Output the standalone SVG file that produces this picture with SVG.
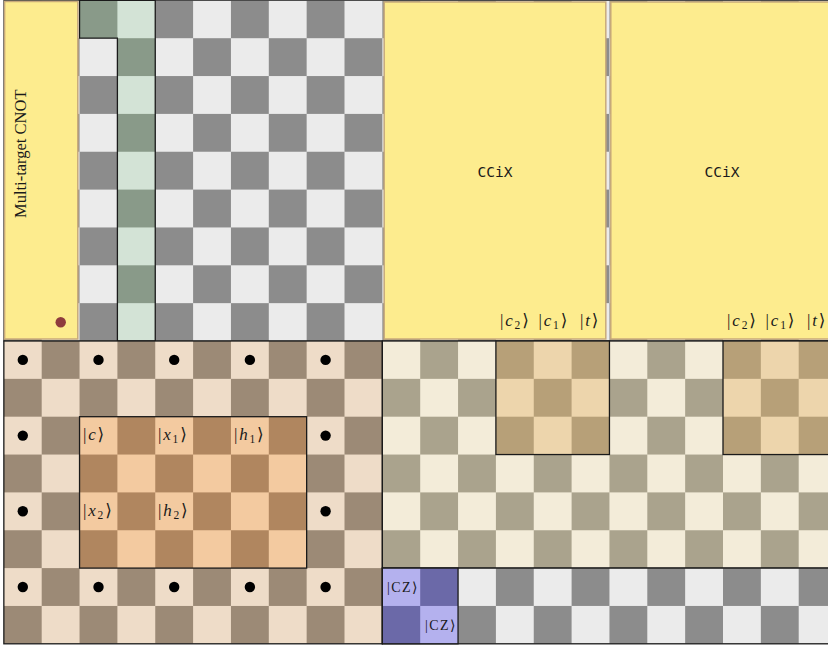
<svg xmlns="http://www.w3.org/2000/svg" width="828" height="647" viewBox="0 0 828 647">
<style>
.reg{stroke:#1a1a1a;stroke-width:1.3}
.box{fill:#fdec8e;stroke:#c8aa7a;stroke-width:1.5}
.lbl{font-family:"Liberation Serif","DejaVu Serif",serif;font-size:17px;fill:#1a1a1a;letter-spacing:1.8px}
.cz{font-size:14px;letter-spacing:1.4px}
.it{font-style:italic}
.sub{font-size:11.5px;font-style:normal}
.mono{font-family:"DejaVu Sans Mono",monospace;font-size:14.5px;fill:#1a1a1a}
.dot{fill:#000}
</style>
<defs>
<pattern id="pGrey" patternUnits="userSpaceOnUse" x="3.85" y="0.35" width="75.7" height="75.7"><rect width="75.7" height="75.7" fill="#ebebeb"/><rect width="37.85" height="37.85" fill="#8c8c8c"/><rect x="37.85" y="37.85" width="37.85" height="37.85" fill="#8c8c8c"/></pattern>
<pattern id="pGreen" patternUnits="userSpaceOnUse" x="3.85" y="0.35" width="75.7" height="75.7"><rect width="75.7" height="75.7" fill="#d3e3d6"/><rect width="37.85" height="37.85" fill="#899a89"/><rect x="37.85" y="37.85" width="37.85" height="37.85" fill="#899a89"/></pattern>
<pattern id="pTan" patternUnits="userSpaceOnUse" x="3.85" y="0.35" width="75.7" height="75.7"><rect width="75.7" height="75.7" fill="#eedcc8"/><rect width="37.85" height="37.85" fill="#9c8a76"/><rect x="37.85" y="37.85" width="37.85" height="37.85" fill="#9c8a76"/></pattern>
<pattern id="pOrange" patternUnits="userSpaceOnUse" x="3.85" y="0.35" width="75.7" height="75.7"><rect width="75.7" height="75.7" fill="#f3caa0"/><rect width="37.85" height="37.85" fill="#b0865f"/><rect x="37.85" y="37.85" width="37.85" height="37.85" fill="#b0865f"/></pattern>
<pattern id="pCream" patternUnits="userSpaceOnUse" x="3.85" y="0.35" width="75.7" height="75.7"><rect width="75.7" height="75.7" fill="#f3ecd9"/><rect width="37.85" height="37.85" fill="#aaa38d"/><rect x="37.85" y="37.85" width="37.85" height="37.85" fill="#aaa38d"/></pattern>
<pattern id="pBrown" patternUnits="userSpaceOnUse" x="3.85" y="0.35" width="75.7" height="75.7"><rect width="75.7" height="75.7" fill="#edd5ac"/><rect width="37.85" height="37.85" fill="#b7a078"/><rect x="37.85" y="37.85" width="37.85" height="37.85" fill="#b7a078"/></pattern>
<pattern id="pPurple" patternUnits="userSpaceOnUse" x="3.85" y="0.35" width="75.7" height="75.7"><rect width="75.7" height="75.7" fill="#b4b1ee"/><rect width="37.85" height="37.85" fill="#6b69a8"/><rect x="37.85" y="37.85" width="37.85" height="37.85" fill="#6b69a8"/></pattern>
</defs>
<rect width="828" height="647" fill="#ffffff"/>

<g id="board">
<rect id="top-region" x="3.85" y="0.35" width="832.7" height="340.65" fill="url(#pGrey)" stroke="#333" stroke-width="1"/>
<path id="green-region" class="reg" d="M79.55,0.35 H155.25 V341 H117.4 V38.2 H79.55 Z" fill="url(#pGreen)"/>
<rect id="tan-region" class="reg" x="3.85" y="341" width="378.5" height="302.8" fill="url(#pTan)"/>
<rect id="cream-region" class="reg" x="382.35" y="341" width="454.2" height="227.1" fill="url(#pCream)"/>
<rect id="grey-bottom-region" class="reg" x="382.35" y="568.1" width="454.2" height="75.7" fill="url(#pGrey)"/>
</g>

<g id="orange-block">
<rect class="reg" x="79.55" y="416.7" width="227.1" height="151.4" fill="url(#pOrange)"/>
<text class="lbl" x="83" y="440">|<tspan class="it">c</tspan>⟩</text>
<text class="lbl" x="158" y="440">|<tspan class="it">x</tspan><tspan class="sub" dy="3">1</tspan><tspan dy="-3">⟩</tspan></text>
<text class="lbl" x="234" y="440">|<tspan class="it">h</tspan><tspan class="sub" dy="3">1</tspan><tspan dy="-3">⟩</tspan></text>
<text class="lbl" x="83" y="516">|<tspan class="it">x</tspan><tspan class="sub" dy="3">2</tspan><tspan dy="-3">⟩</tspan></text>
<text class="lbl" x="158" y="516">|<tspan class="it">h</tspan><tspan class="sub" dy="3">2</tspan><tspan dy="-3">⟩</tspan></text>
</g>

<g id="brown-block-1"><rect class="reg" x="495.9" y="341" width="113.55" height="113.55" fill="url(#pBrown)"/></g>
<g id="brown-block-2"><rect class="reg" x="723" y="341" width="113.55" height="113.55" fill="url(#pBrown)"/></g>

<g id="cz-block">
<rect class="reg" x="382.35" y="568.1" width="75.7" height="75.7" fill="url(#pPurple)"/>
<text class="lbl cz" x="387" y="591.5">|CZ⟩</text>
<text class="lbl cz" x="425" y="629.5">|CZ⟩</text>
</g>

<g id="dots">
<circle class="dot" cx="22.8" cy="359.9" r="5.2"/><circle class="dot" cx="98.5" cy="359.9" r="5.2"/><circle class="dot" cx="174.2" cy="359.9" r="5.2"/><circle class="dot" cx="249.9" cy="359.9" r="5.2"/><circle class="dot" cx="325.6" cy="359.9" r="5.2"/>
<circle class="dot" cx="22.8" cy="435.6" r="5.2"/><circle class="dot" cx="325.6" cy="435.6" r="5.2"/>
<circle class="dot" cx="22.8" cy="511.3" r="5.2"/><circle class="dot" cx="325.6" cy="511.3" r="5.2"/>
<circle class="dot" cx="22.8" cy="587" r="5.2"/><circle class="dot" cx="98.5" cy="587" r="5.2"/><circle class="dot" cx="174.2" cy="587" r="5.2"/><circle class="dot" cx="249.9" cy="587" r="5.2"/><circle class="dot" cx="325.6" cy="587" r="5.2"/>
</g>

<g id="cnot-box">
<rect class="box" x="4.6" y="1.5" width="73.2" height="337.5"/>
<text transform="translate(26,218) rotate(-90)" font-family="Liberation Serif, DejaVu Serif, serif" font-size="16.5" fill="#1a1a1a">Multi-target CNOT</text>
<circle cx="60.7" cy="322.3" r="5.2" fill="#8e3b3d"/>
</g>

<g id="ccix-box-1">
<rect class="box" x="384.2" y="2" width="221.6" height="337"/>
<text class="mono" x="495" y="177" text-anchor="middle">CCiX</text>
<text class="lbl" x="500" y="326">|<tspan class="it">c</tspan><tspan class="sub" dy="3">2</tspan><tspan dy="-3">⟩</tspan></text>
<text class="lbl" x="538.5" y="326">|<tspan class="it">c</tspan><tspan class="sub" dy="3">1</tspan><tspan dy="-3">⟩</tspan></text>
<text class="lbl" x="580" y="326">|<tspan class="it">t</tspan>⟩</text>
</g>

<g id="ccix-box-2">
<rect class="box" x="610.8" y="2" width="221.6" height="337"/>
<text class="mono" x="722" y="177" text-anchor="middle">CCiX</text>
<text class="lbl" x="727.1" y="326">|<tspan class="it">c</tspan><tspan class="sub" dy="3">2</tspan><tspan dy="-3">⟩</tspan></text>
<text class="lbl" x="765.6" y="326">|<tspan class="it">c</tspan><tspan class="sub" dy="3">1</tspan><tspan dy="-3">⟩</tspan></text>
<text class="lbl" x="807.1" y="326">|<tspan class="it">t</tspan>⟩</text>
</g>

<g id="connectors"></g>
</svg>
